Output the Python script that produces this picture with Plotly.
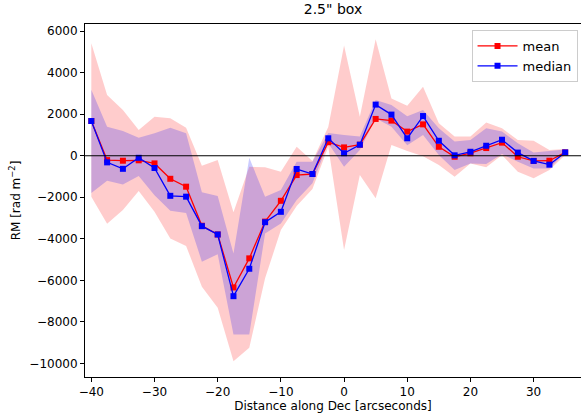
import plotly.graph_objects as go

# Offset along Dec (arcsec) of each box centre
dist = [-40, -37.5, -35, -32.5, -30, -27.5, -25, -22.5, -20, -17.5, -15, -12.5,
        -10, -7.5, -5, -2.5, 0, 2.5, 5, 7.5, 10, 12.5, 15, 17.5, 20, 22.5, 25,
        27.5, 30, 32.5, 35]

# RM statistics per box (rad m^-2)
rm_mean = [1670, -210, -240, -220, -370, -1110, -1490, -3370, -3790, -6340, -4940,
           -3170, -2170, -930, -880, 650, 400, 530, 1770, 1690, 1160, 1510, 430,
           -50, 120, 370, 630, -50, -250, -240, 160]
rm_median = [1670, -320, -630, -100, -590, -1930, -1970, -3390, -3790, -6760, -5440,
             -3200, -2700, -640, -880, 840, 120, 530, 2460, 1980, 840, 1910, 720,
             20, 190, 480, 770, 150, -250, -430, 160]

# Spread of the mean (upper / lower envelope)
mean_hi = [5410, 2920, 2200, 1240, 1880, 1800, 1350, -480, -210, -2720, -530,
           -560, -770, 430, -250, 1380, 5300, 1880, 5600, 2760, 2400, 3320, 1560,
           920, 920, 1600, 1320, 760, 720, 280, 320]
mean_lo = [-1970, -3270, -2610, -1700, -2700, -3980, -4340, -6310, -7320, -9890,
           -9240, -5900, -3580, -2420, -1600, 430, -4540, -930, -2050, 520, 230,
           -20, -450, -1010, -370, -560, 30, -770, -1090, -690, 30]

# Spread of the median (upper / lower envelope)
med_hi = [3170, 1400, 1190, 870, 1080, 1350, 1080, -1760, -1940, -4700, -100,
          -1970, -1650, -290, -290, 1090, 1000, 920, 2680, 2440, 1900, 2200, 1320,
          680, 760, 1320, 1160, 600, 150, 240, 300]
med_lo = [-1800, -1200, -1390, -980, -1900, -2650, -2760, -5100, -4740, -8600,
          -8600, -3740, -3260, -2130, -1330, 600, -530, 280, 1800, 1400, 500, 1000,
          30, -690, -370, -400, 80, -290, -610, -610, 150]

y_ticks = [-10000, -8000, -6000, -4000, -2000, 0, 2000, 4000, 6000]
y_labels = ["−10000", "−8000", "−6000", "−4000", "−2000", "0", "2000", "4000", "6000"]
x_ticks = [-40, -30, -20, -10, 0, 10, 20, 30]
x_labels = ["−40", "−30", "−20", "−10", "0", "10", "20", "30"]

FONT = "DejaVu Sans"

fig = go.Figure()


def band(lo, hi, color):
    return go.Scatter(
        x=dist + dist[::-1],
        y=hi + lo[::-1],
        fill="toself",
        fillcolor=color,
        line=dict(width=0, color="rgba(0,0,0,0)"),
        mode="lines",
        hoverinfo="skip",
        showlegend=False,
    )


fig.add_trace(band(mean_lo, mean_hi, "rgba(255,0,0,0.2)"))
fig.add_trace(band(med_lo, med_hi, "rgba(0,0,255,0.2)"))

fig.add_trace(go.Scatter(
    x=dist, y=rm_mean, name="mean", mode="lines+markers",
    line=dict(color="#ff0000", width=1.3),
    marker=dict(symbol="square", size=6, color="#ff0000"),
))
fig.add_trace(go.Scatter(
    x=dist, y=rm_median, name="median", mode="lines+markers",
    line=dict(color="#0000ff", width=1.3),
    marker=dict(symbol="square", size=6, color="#0000ff"),
))

# zero reference line
fig.add_shape(type="line", xref="paper", yref="y", x0=0, x1=1, y0=0, y1=0,
              line=dict(color="black", width=1.2), layer="above")

fig.update_layout(
    width=581, height=415,
    margin=dict(l=85, r=0, t=24, b=38),
    paper_bgcolor="white", plot_bgcolor="white",
    font=dict(family=FONT, size=12, color="black"),
    title=dict(text='2.5" box', x=0.5, xanchor="center", xref="paper",
               y=0.99, yanchor="top", font=dict(size=14)),
    showlegend=True,
    legend=dict(x=0.993, y=0.983, xanchor="right", yanchor="top",
                bgcolor="rgba(255,255,255,0.85)", bordercolor="#cccccc",
                borderwidth=1, font=dict(size=13), itemwidth=40),
    xaxis=dict(
        range=[-41, 37.5], tickvals=x_ticks, ticktext=x_labels,
        showgrid=False, zeroline=False,
        showline=True, linecolor="black", linewidth=1, mirror=True,
        ticks="outside", ticklen=4, tickcolor="black",
        tickfont=dict(size=12),
        title=dict(text="Distance along Dec [arcseconds]", standoff=2,
                   font=dict(size=12)),
    ),
    yaxis=dict(
        range=[-10650, 6340], tickvals=y_ticks, ticktext=y_labels,
        showgrid=False, zeroline=False,
        showline=True, linecolor="black", linewidth=1,
        ticks="outside", ticklen=4, tickcolor="black",
        tickfont=dict(size=12),
        title=dict(text="RM [rad m<sup>−2</sup>]", standoff=6,
                   font=dict(size=12)),
    ),
)

fig.write_html("out.html")
